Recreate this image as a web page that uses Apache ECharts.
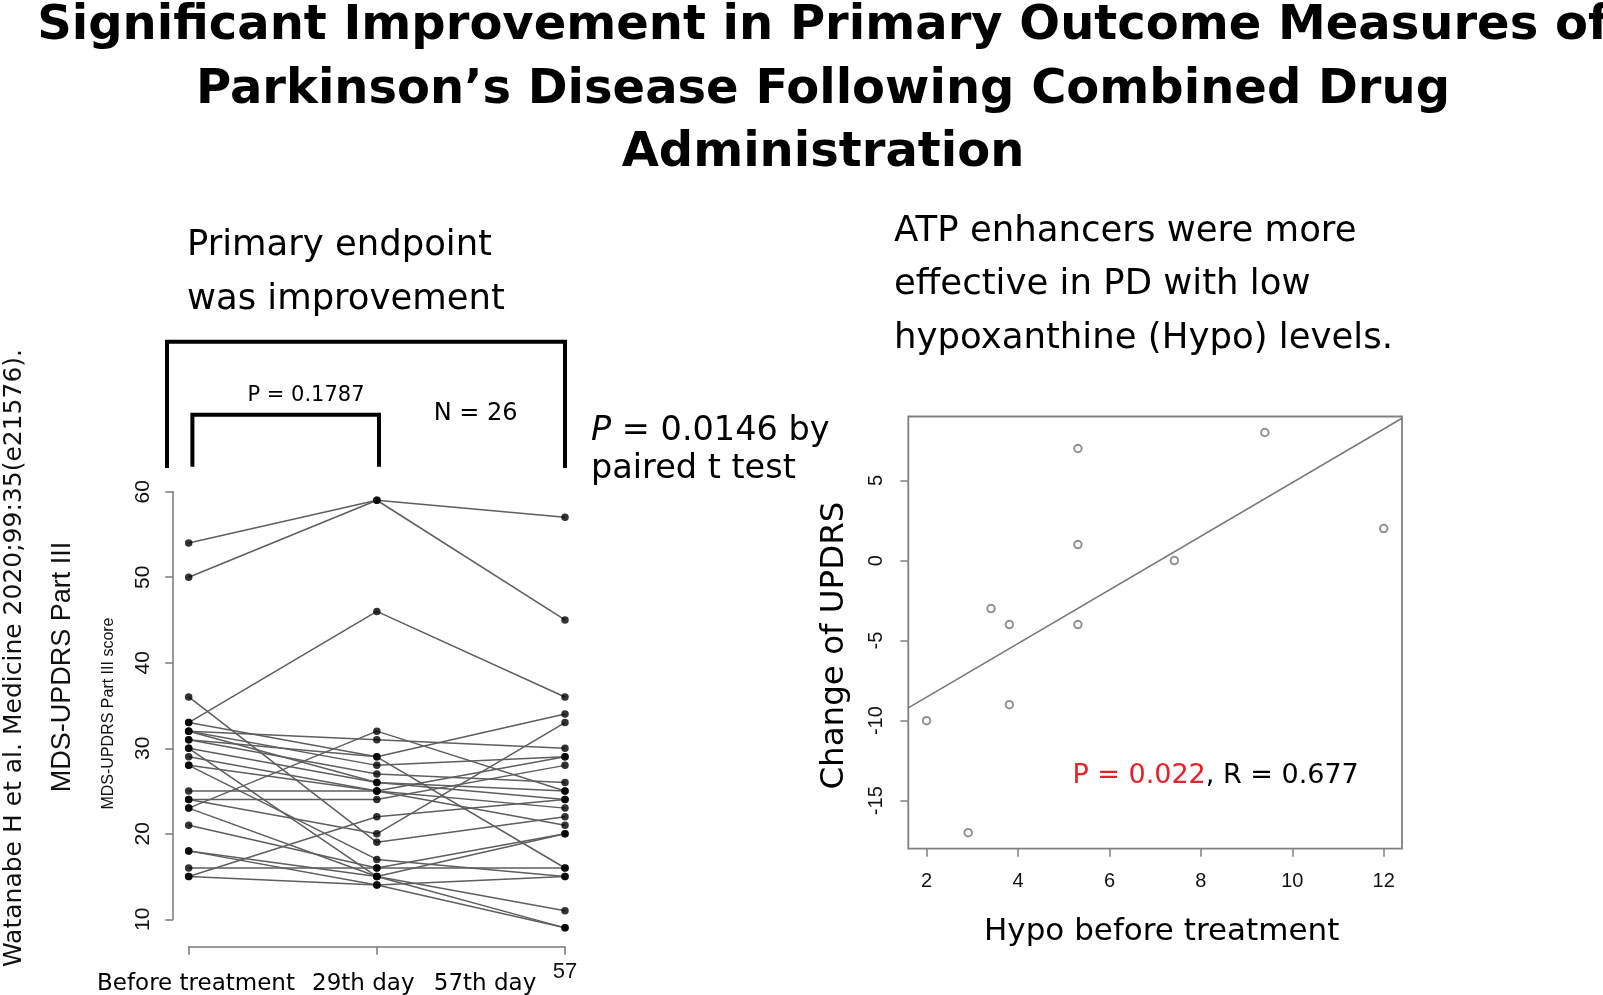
<!DOCTYPE html>
<html>
<head>
<meta charset="utf-8">
<title>Parkinson's combined drug outcome</title>
<script src="https://cdn.jsdelivr.net/npm/echarts@6/dist/echarts.min.js"></script>
<style>
  html, body { margin: 0; padding: 0; background: #fff; }
  #chart { width: 1603px; height: 995px; }
</style>
</head>
<body>
<div id="chart"></div>
<script>
/* ---------- data ---------- */
// left panel: MDS-UPDRS Part III score of the 26 patients
const categories = ['Before treatment', '29th day', '57th day'];
const tickLabels = ['', '', '57'];
const beforeScores = [54, 50, 33, 36, 32, 33, 32, 31, 32, 30, 29, 28, 31, 28, 25, 24, 23, 24, 21, 18, 16, 15, 15, 23, 18, 30];
const day29Scores  = [59, 59, 46, 19, 31, 29, 28, 27, 26, 26, 25, 25, 29, 17, 25, 24, 32, 20, 16, 15, 16, 14, 22, 15, 14, 15];
const day57Scores  = [57, 45, 36, 22, 30, 34, 29, 26, 25, 24, 23, 21, 16, 15, 29, 28, 25, 33, 20, 11, 16,  9, 24,  9, 15, 20];

// right panel: hypoxanthine before treatment vs change of UPDRS
const hypoBefore  = [2.0, 2.91, 3.41, 3.81, 3.81, 5.31, 5.31, 5.31, 7.42, 9.40, 12.0];
const updrsChange = [-10, -17, -3, -4, -9, 7, 1, -4, 0, 8, 2];
const hypoTicks   = [2, 4, 6, 8, 10, 12];
const changeTicks = [-15, -10, -5, 0, 5];

/* ---------- helpers ---------- */
const VERDANA = "'DejaVu Sans', Verdana, sans-serif";
const ARIAL = "'Liberation Sans', Arial, Helvetica, sans-serif";
const GREY = '#7a7a7a';

// least squares fit for the regression line
const n = hypoBefore.length;
const mx = hypoBefore.reduce((a, b) => a + b, 0) / n;
const my = updrsChange.reduce((a, b) => a + b, 0) / n;
let sxy = 0, sxx = 0;
hypoBefore.forEach((x, i) => { sxy += (x - mx) * (updrsChange[i] - my); sxx += (x - mx) * (x - mx); });
const slope = sxy / sxx;
const icpt = my - slope * mx;
const X_MIN = 1.6, X_MAX = 12.4;

const chart = echarts.init(document.getElementById('chart'));

/* ---------- series ---------- */
const patientLines = beforeScores.map((v, i) => ({
  type: 'line',
  xAxisIndex: 0, yAxisIndex: 0,
  data: [v, day29Scores[i], day57Scores[i]],
  symbol: 'none',
  clip: false,
  silent: true,
  lineStyle: { color: '#5e5e5e', width: 1.5 },
  z: 2
}));

const patientPoints = [];
[beforeScores, day29Scores, day57Scores].forEach((arr, c) => {
  arr.forEach(v => patientPoints.push([c, v]));
});

chart.setOption({
  animation: false,
  backgroundColor: '#fff',
  title: {
    text: 'Significant Improvement in Primary Outcome Measures of\nParkinson\u2019s Disease Following Combined Drug\nAdministration',
    left: 818,
    top: -10,
    textAlign: 'center',
    textStyle: { fontFamily: VERDANA, fontWeight: 'bold', fontSize: 48, lineHeight: 63.5, color: '#000' }
  },
  grid: [
    { left: 188.7, right: 1038, top: 491.7, bottom: 75.7, outerBoundsMode: 'none' },
    { left: 908.3, right: 201, top: 416.5, bottom: 146.3, outerBoundsMode: 'none',
      show: true, borderColor: '#808080', borderWidth: 1.8, backgroundColor: 'transparent' }
  ],
  xAxis: [
    {
      gridIndex: 0, type: 'category', data: categories, boundaryGap: false,
      position: 'bottom', offset: 27.4,
      axisLine: { onZero: false, lineStyle: { color: GREY, width: 1.5 } },
      axisTick: { inside: false, length: 8, lineStyle: { color: GREY, width: 1.5 } },
      axisLabel: { formatter: (v, i) => tickLabels[i], margin: 14, fontFamily: ARIAL, fontSize: 22, color: '#111' },
      splitLine: { show: false }
    },
    {
      gridIndex: 1, type: 'value', min: X_MIN, max: X_MAX,
      name: 'Hypo before treatment', nameLocation: 'middle', nameGap: 68,
      nameTextStyle: { fontFamily: VERDANA, fontSize: 31, color: '#000', padding: [0, 0, 0, 13] },
      axisLine: { show: false, onZero: false },
      axisTick: { length: 8, customValues: hypoTicks, lineStyle: { color: '#808080', width: 1.5 } },
      axisLabel: { customValues: hypoTicks, margin: 23, fontFamily: ARIAL, fontSize: 20, color: '#111' },
      splitLine: { show: false }
    }
  ],
  yAxis: [
    {
      gridIndex: 0, type: 'value', min: 10, max: 60, interval: 10, offset: 15.5,
      name: 'MDS-UPDRS Part III score', nameLocation: 'middle', nameRotate: 90, nameGap: 57,
      nameTextStyle: { fontFamily: ARIAL, fontSize: 16, color: '#111', padding: [0, 16, 0, 0] },
      axisLine: { show: true, onZero: false, lineStyle: { color: GREY, width: 1.5 } },
      axisTick: { show: true, length: 8, lineStyle: { color: GREY, width: 1.5 } },
      axisLabel: { rotate: 90, margin: 19, fontFamily: ARIAL, fontSize: 21, color: '#111' },
      splitLine: { show: false }
    },
    {
      gridIndex: 1, type: 'value', min: -18, max: 9,
      name: 'Change of UPDRS', nameLocation: 'middle', nameRotate: 90, nameGap: 57,
      nameTextStyle: { fontFamily: VERDANA, fontSize: 32.5, color: '#000', padding: [0, 26, 0, 0] },
      axisLine: { show: false, onZero: false },
      axisTick: { show: true, length: 8, customValues: changeTicks, lineStyle: { color: '#808080', width: 1.5 } },
      axisLabel: { rotate: 90, customValues: changeTicks, margin: 22, fontFamily: ARIAL, fontSize: 20, color: '#111' },
      splitLine: { show: false }
    }
  ],
  series: [
    ...patientLines,
    {
      type: 'scatter', xAxisIndex: 0, yAxisIndex: 0,
      data: patientPoints, symbol: 'circle', symbolSize: 7.5,
      itemStyle: { color: '#000' }, clip: false, silent: true, z: 5
    },
    {
      type: 'line', xAxisIndex: 1, yAxisIndex: 1,
      data: [[X_MIN, icpt + slope * X_MIN], [X_MAX, icpt + slope * X_MAX]],
      symbol: 'none', silent: true,
      lineStyle: { color: '#777', width: 1.5 }, z: 2
    },
    {
      type: 'scatter', xAxisIndex: 1, yAxisIndex: 1,
      data: hypoBefore.map((x, i) => [x, updrsChange[i]]),
      symbol: 'emptyCircle', symbolSize: 7.5, silent: true,
      itemStyle: { color: '#777', borderColor: '#777', borderWidth: 1.4 }, z: 5
    }
  ],
  graphic: [
    // citation and big axis label on the far left
    { type: 'text', x: 14, y: 658, rotation: Math.PI / 2,
      style: { text: 'Watanabe H et al. Medicine 2020;99:35(e21576).', fontFamily: VERDANA, fontSize: 25, fill: '#111', align: 'center', verticalAlign: 'middle' } },
    { type: 'text', x: 63, y: 667, rotation: Math.PI / 2,
      style: { text: 'MDS-UPDRS Part III', fontFamily: ARIAL, fontSize: 27, fill: '#111', align: 'center', verticalAlign: 'middle' } },
    // headline of the left panel
    { type: 'text', x: 187, y: 273,
      style: { text: 'Primary endpoint\nwas improvement', fontFamily: VERDANA, fontSize: 35.4, lineHeight: 54, fill: '#000', align: 'left', verticalAlign: 'middle' } },
    // brackets
    { type: 'polyline', shape: { points: [[167, 468], [167, 341.7], [565, 341.7], [565, 468]] },
      style: { stroke: '#000', lineWidth: 4, fill: null } },
    { type: 'polyline', shape: { points: [[192.4, 466.7], [192.4, 414.7], [379, 414.7], [379, 466.7]] },
      style: { stroke: '#000', lineWidth: 4, fill: null } },
    { type: 'text', x: 306, y: 396,
      style: { text: 'P = 0.1787', fontFamily: VERDANA, fontSize: 21, fill: '#000', align: 'center', verticalAlign: 'middle' } },
    { type: 'text', x: 475.6, y: 414,
      style: { text: 'N = 26', fontFamily: VERDANA, fontSize: 24, fill: '#000', align: 'center', verticalAlign: 'middle' } },
    { type: 'text', x: 591, y: 450,
      style: {
        text: '{i|P} = 0.0146 by\npaired t test',
        fontFamily: VERDANA, fontSize: 33.5, lineHeight: 38, fill: '#000', align: 'left', verticalAlign: 'middle',
        rich: { i: { fontFamily: VERDANA, fontSize: 33.5, fontStyle: 'italic', fill: '#000', lineHeight: 38 } }
      } },
    // category labels below the left axis
    { type: 'text', x: 196, y: 984,
      style: { text: categories[0], fontFamily: VERDANA, fontSize: 23, fill: '#000', align: 'center', verticalAlign: 'middle' } },
    { type: 'text', x: 363.3, y: 984,
      style: { text: categories[1], fontFamily: VERDANA, fontSize: 23, fill: '#000', align: 'center', verticalAlign: 'middle' } },
    { type: 'text', x: 485, y: 984,
      style: { text: categories[2], fontFamily: VERDANA, fontSize: 23, fill: '#000', align: 'center', verticalAlign: 'middle' } },
    // right panel headline
    { type: 'text', x: 894, y: 285,
      style: { text: 'ATP enhancers were more\neffective in PD with low\nhypoxanthine (Hypo) levels.', fontFamily: VERDANA, fontSize: 35.5, lineHeight: 53.5, fill: '#000', align: 'left', verticalAlign: 'middle' } },
    // statistics inside the scatter plot
    { type: 'text', x: 1072.4, y: 776,
      style: {
        text: '{r|P = 0.022}{k|, R = 0.677}',
        fontFamily: VERDANA, fontSize: 27, align: 'left', verticalAlign: 'middle',
        rich: {
          r: { fontFamily: VERDANA, fontSize: 27, fill: '#e8202a' },
          k: { fontFamily: VERDANA, fontSize: 27, fill: '#000' }
        }
      } }
  ]
});
</script>
</body>
</html>
